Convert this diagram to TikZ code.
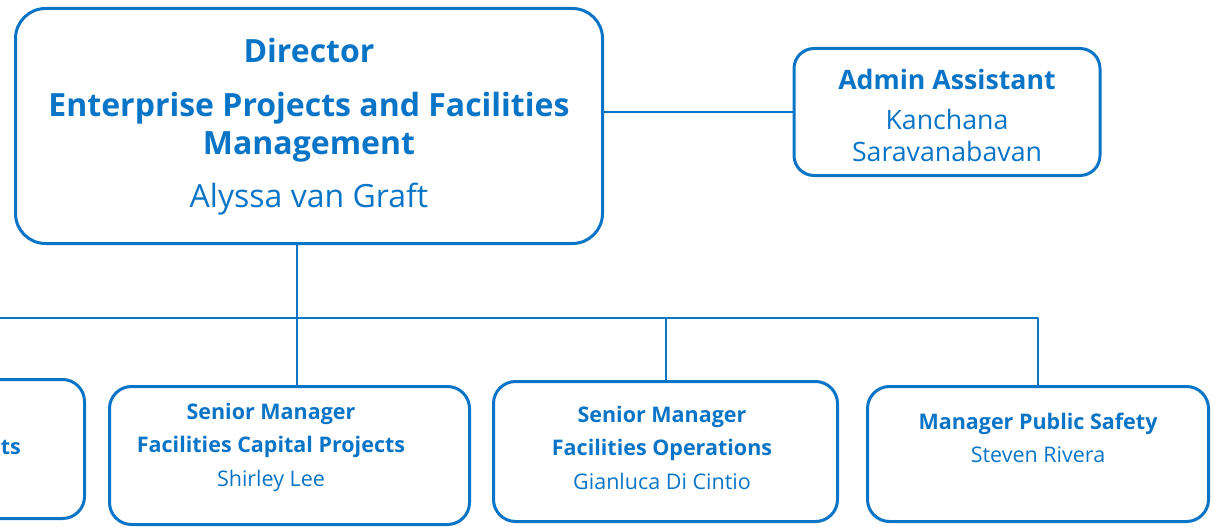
\documentclass[tikz,border=0pt]{standalone}
\usepackage{fontspec}
\setmainfont{Open Sans}
\usetikzlibrary{positioning}
\definecolor{orgblue}{HTML}{0A74C6}
\tikzset{
  box/.style={draw=orgblue, line width=3pt, rounded corners=22pt, inner sep=0pt},
  link/.style={draw=orgblue, line width=2pt},
  txt/.style={text=orgblue, align=center, inner sep=0pt},
}
\begin{document}
\begin{tikzpicture}[x=1pt, y=-1pt, line join=round]
\useasboundingbox (0,0) rectangle (1211,527);
\clip (0,0) rectangle (1211,527);
% boxes
\node[box, rounded corners=30pt, minimum width=587pt, minimum height=235pt] (director) at (309,126) {};
\node[box, rounded corners=20pt, minimum width=306pt, minimum height=127pt] (admin) at (947,112) {};
\node[box, minimum width=347pt, minimum height=139pt] (leftbox) at (-89,449) {};
\node[box, minimum width=360pt, minimum height=138pt] (capital) at (289.5,455.5) {};
\node[box, minimum width=344pt, minimum height=140pt] (ops) at (665.5,451.5) {};
\node[box, minimum width=341pt, minimum height=135pt] (safety) at (1038,454) {};
% texts
\node[txt, font=\fontsize{32}{38}\selectfont] (dirtext) at (309,127)
  {\textbf{Director}\\[16pt]\textbf{Enterprise Projects and Facilities}\\\textbf{Management}\\[15pt]Alyssa van Graft};
\node[txt, font=\fontsize{26.7}{32}\selectfont] (admintext) at (947,115)
  {\textbf{Admin Assistant}\\[8pt]Kanchana\\Saravanabavan};
\node[txt, anchor=east, font=\fontsize{21.5}{33}\selectfont\bfseries] (lefttext) at (21,447) {ts};
\node[txt, font=\fontsize{21.5}{33.5}\selectfont] (capitaltext) at (271,447)
  {\textbf{Senior Manager}\\\textbf{Facilities Capital Projects}\\Shirley Lee};
\node[txt, font=\fontsize{21.5}{33.5}\selectfont] (opstext) at (662,447.5)
  {\textbf{Senior Manager}\\\textbf{Facilities Operations}\\Gianluca Di Cintio};
\node[txt, font=\fontsize{21.5}{33}\selectfont] (safetytext) at (1038,438)
  {\textbf{Manager Public Safety}\\Steven Rivera};
% connectors
\coordinate (drop) at (297,245);
\coordinate (bus) at (0,318);
\draw[link] (admin.west) -- (admin.west -| director.east);
\draw[link] (drop) -- (drop |- capital.north);
\draw[link] (leftbox.north |- bus) -- (safety.north |- bus) -- (safety.north);
\draw[link] (ops.north |- bus) -- (ops.north);
\end{tikzpicture}
\end{document}
